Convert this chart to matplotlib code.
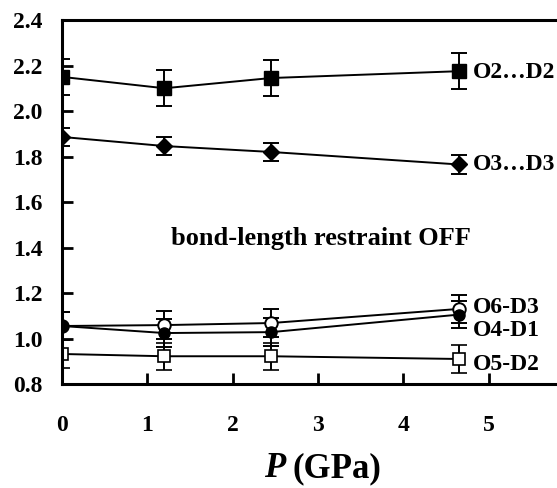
import matplotlib
matplotlib.use("Agg")
import matplotlib.pyplot as plt

# pressure points (GPa)
pressure = [0.0, 1.2, 2.45, 4.65]

# distances and errors for each pair
o2_d2 = [2.15, 2.10, 2.145, 2.175]
o2_d2_err = [0.08, 0.08, 0.08, 0.08]
o3_d3 = [1.886, 1.846, 1.82, 1.765]
o3_d3_err = [0.04, 0.04, 0.04, 0.04]
o6_d3 = [1.055, 1.059, 1.068, 1.13]
o6_d3_err = [0.06, 0.06, 0.06, 0.06]
o4_d1 = [1.055, 1.024, 1.028, 1.105]
o4_d1_err = [0.06, 0.06, 0.06, 0.06]
o5_d2 = [0.932, 0.922, 0.922, 0.91]
o5_d2_err = [0.06, 0.06, 0.06, 0.06]

labels = ["O2\u2026D2", "O3\u2026D3", "O6-D3", "O4-D1", "O5-D2"]
label_y = [2.17, 1.765, 1.135, 1.035, 0.885]

plt.rcParams["font.family"] = ["Liberation Serif", "DejaVu Serif"]
plt.rcParams["font.weight"] = "bold"

fig = plt.figure(figsize=(5.57, 4.88), dpi=100)
ax = fig.add_axes([0.1113, 0.2131, 0.8887, 0.7459])

eb = dict(color="black", lw=1.4, elinewidth=1.4, capsize=6, capthick=1.4)
ax.errorbar(pressure, o2_d2, yerr=o2_d2_err, marker="s", ms=10, mfc="black", mec="black", **eb)
ax.errorbar(pressure, o3_d3, yerr=o3_d3_err, marker="D", ms=8, mfc="black", mec="black", **eb)
ax.errorbar(pressure, o6_d3, yerr=o6_d3_err, marker="o", ms=9, mfc="white", mec="black", mew=1.4, **eb)
ax.errorbar(pressure, o4_d1, yerr=o4_d1_err, marker="o", ms=8, mfc="black", mec="black", **eb)
ax.errorbar(pressure, o5_d2, yerr=o5_d2_err, marker="s", ms=8, mfc="white", mec="black", mew=1.2, **eb)

for lab, y in zip(labels, label_y):
    ax.text(4.82, y, lab, fontsize=17, fontweight="bold", va="center", ha="left")

ax.text(3.03, 1.44, "bond-length restraint OFF", fontsize=19, fontweight="bold",
        ha="center", va="center")

ax.set_xlim(0, 5.8)
ax.set_ylim(0.8, 2.4)
ax.set_xticks([0, 1, 2, 3, 4, 5])
ax.set_yticks([0.8, 1.0, 1.2, 1.4, 1.6, 1.8, 2.0, 2.2, 2.4])
ax.set_yticklabels(["0.8", "1.0", "1.2", "1.4", "1.6", "1.8", "2.0", "2.2", "2.4"])
ax.tick_params(direction="in", length=8, width=2, labelsize=17)
ax.tick_params(axis="x", pad=22)
ax.tick_params(axis="y", pad=14)
for lbl in ax.get_xticklabels() + ax.get_yticklabels():
    lbl.set_fontweight("bold")

ax.spines["right"].set_visible(False)
for s in ["left", "top", "bottom"]:
    ax.spines[s].set_linewidth(2.2)

# x label: italic P then (GPa)
fig.text(0.512, 0.022, "P", fontsize=25, fontweight="bold", fontstyle="italic", ha="right", va="baseline")
fig.text(0.525, 0.022, "(GPa)", fontsize=25, fontweight="bold", ha="left", va="baseline")

fig.savefig("out.png", dpi=100)
